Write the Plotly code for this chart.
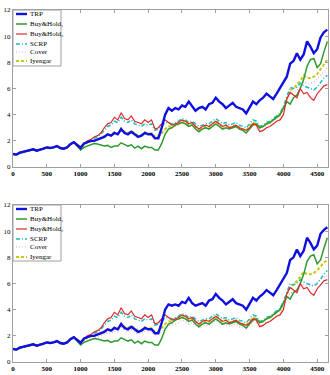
import plotly.graph_objects as go

# ---------------- data ----------------
days = list(range(0, 4651, 50))

# top panel
trp_a = [1.00,0.95,1.10,1.15,1.20,1.30,1.35,1.25,1.30,1.40,1.50,1.45,1.50,1.60,1.45,1.40,1.50,1.75,1.90,1.70,1.45,
         1.8,1.9,2.0,2.0,2.1,2.2,2.3,2.5,2.4,2.6,2.5,2.9,2.6,2.5,2.7,2.5,2.3,2.4,2.6,2.5,2.5,2.2,2.2,3.0,
         4.0,4.5,4.3,4.5,4.4,4.7,4.6,5.0,4.6,4.3,4.5,4.6,4.4,4.8,4.9,5.3,5.0,4.8,4.5,4.7,4.9,4.6,4.5,4.4,4.1,
         4.6,5.0,4.8,5.1,5.3,5.6,5.4,5.2,5.6,6.0,6.4,6.9,7.9,8.1,8.7,8.2,8.6,9.6,9.2,8.7,9.0,9.9,10.3,10.5]
bh1_a = [1.00,0.92,1.05,1.12,1.18,1.28,1.32,1.22,1.28,1.38,1.48,1.43,1.48,1.58,1.42,1.38,1.48,1.72,1.88,1.60,1.30,
         1.5,1.6,1.7,1.8,1.75,1.7,1.6,1.65,1.5,1.6,1.6,1.85,1.7,1.6,1.7,1.45,1.6,1.4,1.6,1.5,1.5,1.3,1.3,1.8,
         2.5,2.9,3.0,3.2,3.3,3.4,3.3,3.1,3.2,2.9,2.7,2.9,3.0,2.9,3.1,3.3,3.1,2.9,3.0,2.9,3.0,3.1,2.9,2.8,2.6,
         2.9,3.2,3.3,3.0,3.1,3.3,3.4,3.6,3.8,4.0,4.5,5.0,4.8,5.3,5.5,6.0,6.7,7.7,8.2,8.3,7.6,7.9,8.8,9.6]
bh2_a = [1.00,0.96,1.12,1.16,1.22,1.32,1.38,1.27,1.32,1.42,1.52,1.47,1.52,1.62,1.47,1.42,1.52,1.78,1.92,1.72,1.55,
         1.75,2.0,2.1,2.3,2.4,2.6,3.0,3.3,3.4,3.8,3.6,4.15,3.7,3.6,3.9,3.5,3.4,3.3,3.6,3.4,3.6,2.9,3.0,3.3,
         3.6,3.4,3.2,3.3,3.4,3.6,3.5,3.3,3.4,3.1,2.9,3.1,3.2,3.1,3.3,3.5,3.3,3.1,3.2,3.0,3.1,3.2,3.0,2.9,2.8,
         3.0,3.3,3.2,2.7,2.8,3.0,3.1,3.3,3.5,3.6,4.0,5.2,5.7,5.5,5.3,6.0,5.6,5.7,5.3,5.1,5.6,5.9,6.2,6.3]
scrp_a = [1.00,0.95,1.11,1.15,1.21,1.31,1.36,1.26,1.31,1.41,1.51,1.46,1.51,1.61,1.46,1.41,1.51,1.76,1.91,1.71,1.52,
          1.7,1.9,2.0,2.2,2.3,2.5,2.8,3.1,3.2,3.5,3.4,3.8,3.5,3.4,3.6,3.3,3.2,3.1,3.3,3.2,3.3,2.8,2.9,3.1,
          3.4,3.4,3.3,3.4,3.5,3.7,3.6,3.4,3.5,3.3,3.1,3.2,3.3,3.3,3.5,3.7,3.5,3.3,3.4,3.2,3.3,3.4,3.2,3.1,3.0,
          3.3,3.6,3.5,3.1,3.2,3.4,3.5,3.7,3.9,4.1,4.6,5.4,6.1,6.0,6.1,6.4,6.2,6.1,6.0,5.9,6.1,6.5,6.8,7.0]
cover_a = [1.00,0.95,1.10,1.14,1.19,1.29,1.34,1.24,1.29,1.39,1.49,1.44,1.49,1.59,1.44,1.39,1.49,1.74,1.89,1.69,1.48,
           1.72,1.82,1.95,2.0,2.05,2.2,2.3,2.45,2.4,2.6,2.5,2.9,2.65,2.55,2.7,2.5,2.35,2.4,2.6,2.5,2.55,2.25,2.3,2.5,
           2.8,3.0,3.0,3.1,3.2,3.4,3.3,3.1,3.2,3.0,2.8,2.9,3.0,3.0,3.2,3.4,3.2,3.0,3.1,2.9,3.0,3.1,2.9,2.8,2.7,
           3.0,3.3,3.2,2.9,3.0,3.2,3.3,3.5,3.7,3.9,4.4,5.0,5.6,5.7,5.9,6.2,6.5,6.4,6.4,6.5,6.7,7.0,7.3,7.6]
iyen_a = [1.00,0.95,1.10,1.15,1.20,1.30,1.35,1.25,1.30,1.40,1.50,1.45,1.50,1.60,1.45,1.40,1.50,1.75,1.90,1.70,1.50,
          1.75,1.85,2.0,2.05,2.1,2.25,2.35,2.5,2.45,2.65,2.55,2.95,2.7,2.6,2.75,2.55,2.4,2.45,2.65,2.55,2.6,2.3,2.35,2.6,
          2.9,3.1,3.1,3.2,3.3,3.5,3.4,3.2,3.3,3.1,2.9,3.0,3.1,3.1,3.3,3.5,3.3,3.1,3.2,3.0,3.1,3.2,3.0,2.9,2.8,
          3.1,3.4,3.3,3.0,3.1,3.3,3.4,3.6,3.8,4.0,4.5,5.2,5.9,6.0,6.3,6.6,7.0,6.8,6.8,6.9,7.1,7.5,7.9,8.2]

# bottom panel
trp_b = [1.00,0.95,1.10,1.15,1.20,1.30,1.35,1.25,1.30,1.40,1.50,1.45,1.50,1.60,1.45,1.40,1.50,1.75,1.90,1.70,1.45,
         1.8,1.9,2.0,2.0,2.1,2.2,2.3,2.5,2.4,2.6,2.5,2.9,2.6,2.5,2.7,2.5,2.3,2.4,2.6,2.5,2.5,2.2,2.2,3.0,
         4.0,4.4,4.3,4.4,4.3,4.6,4.5,4.9,4.5,4.3,4.4,4.5,4.3,4.7,4.8,5.2,4.9,4.7,4.4,4.6,4.8,4.5,4.4,4.3,4.0,
         4.5,4.9,4.7,5.0,5.2,5.5,5.3,5.1,5.5,5.9,6.3,6.8,7.8,8.0,8.6,8.1,8.5,9.5,9.1,8.6,8.9,9.8,10.1,10.3]
bh1_b = [1.00,0.92,1.05,1.12,1.18,1.28,1.32,1.22,1.28,1.38,1.48,1.43,1.48,1.58,1.42,1.38,1.48,1.72,1.88,1.60,1.30,
         1.5,1.6,1.7,1.8,1.75,1.7,1.6,1.65,1.5,1.6,1.6,1.85,1.7,1.6,1.7,1.45,1.6,1.4,1.6,1.5,1.5,1.3,1.3,1.8,
         2.5,2.9,3.0,3.2,3.3,3.4,3.3,3.1,3.2,2.9,2.7,2.9,3.0,2.9,3.1,3.3,3.1,2.9,3.0,2.9,3.0,3.1,2.9,2.8,2.6,
         2.9,3.2,3.3,3.0,3.1,3.3,3.4,3.6,3.8,4.0,4.5,5.0,4.8,5.3,5.5,6.0,6.7,7.7,8.1,8.2,7.5,7.8,8.7,9.5]
bh2_b = [1.00,0.96,1.12,1.16,1.22,1.32,1.38,1.27,1.32,1.42,1.52,1.47,1.52,1.62,1.47,1.42,1.52,1.78,1.92,1.72,1.55,
         1.75,2.0,2.1,2.3,2.4,2.6,3.0,3.3,3.4,3.8,3.6,4.15,3.7,3.6,3.9,3.5,3.4,3.3,3.6,3.4,3.6,2.9,3.0,3.3,
         3.6,3.4,3.2,3.3,3.4,3.6,3.5,3.3,3.4,3.1,2.9,3.1,3.2,3.1,3.3,3.5,3.3,3.1,3.2,3.0,3.1,3.2,3.0,2.9,2.8,
         3.0,3.3,3.2,2.7,2.8,3.0,3.1,3.3,3.5,3.6,4.0,5.2,5.7,5.5,5.3,6.0,5.6,5.7,5.3,5.1,5.6,5.9,6.2,6.3]
scrp_b = [1.00,0.95,1.11,1.15,1.21,1.31,1.36,1.26,1.31,1.41,1.51,1.46,1.51,1.61,1.46,1.41,1.51,1.76,1.91,1.71,1.52,
          1.7,1.9,2.0,2.2,2.3,2.5,2.8,3.1,3.2,3.5,3.4,3.8,3.5,3.4,3.6,3.3,3.2,3.1,3.3,3.2,3.3,2.8,2.9,3.1,
          3.4,3.4,3.3,3.4,3.5,3.7,3.6,3.4,3.5,3.3,3.1,3.2,3.3,3.3,3.5,3.7,3.5,3.3,3.4,3.2,3.3,3.4,3.2,3.1,3.0,
          3.3,3.6,3.5,3.1,3.2,3.4,3.5,3.7,3.9,4.1,4.6,5.3,6.0,5.9,6.0,6.3,6.1,6.0,5.9,5.8,6.0,6.4,6.7,7.0]
cover_b = [1.00,0.94,1.08,1.12,1.16,1.25,1.30,1.21,1.26,1.35,1.45,1.40,1.45,1.55,1.40,1.35,1.45,1.68,1.82,1.62,1.40,
           1.62,1.7,1.82,1.85,1.9,2.0,2.1,2.25,2.2,2.35,2.3,2.65,2.4,2.3,2.45,2.3,2.15,2.2,2.35,2.3,2.3,2.05,2.1,2.3,
           2.6,2.8,2.8,2.9,3.0,3.2,3.1,2.9,3.0,2.8,2.6,2.7,2.8,2.8,3.0,3.2,3.0,2.8,2.9,2.7,2.8,2.9,2.7,2.6,2.5,
           2.8,3.1,3.0,2.7,2.8,3.0,3.1,3.3,3.5,3.7,4.2,4.8,5.3,5.3,5.5,5.8,5.9,5.8,5.8,5.9,6.1,6.3,6.5,6.6]
iyen_b = [1.00,0.95,1.10,1.15,1.20,1.30,1.35,1.25,1.30,1.40,1.50,1.45,1.50,1.60,1.45,1.40,1.50,1.75,1.90,1.70,1.50,
          1.75,1.85,2.0,2.05,2.1,2.25,2.35,2.5,2.45,2.65,2.55,2.95,2.7,2.6,2.75,2.55,2.4,2.45,2.65,2.55,2.6,2.3,2.35,2.6,
          2.9,3.1,3.1,3.2,3.3,3.5,3.4,3.2,3.3,3.1,2.9,3.0,3.1,3.1,3.3,3.5,3.3,3.1,3.2,3.0,3.1,3.2,3.0,2.9,2.8,
          3.1,3.4,3.3,3.0,3.1,3.3,3.4,3.6,3.8,4.0,4.5,5.1,5.8,5.9,6.2,6.5,6.9,6.7,6.7,6.8,7.0,7.3,7.6,7.8]

names = ["TRP", "Buy&amp;Hold\u2081", "Buy&amp;Hold\u2082", "SCRP", "Cover", "Iyengar"]
x_ticks = [0, 500, 1000, 1500, 2000, 2500, 3000, 3500, 4000, 4500]
y_ticks = [0, 2, 4, 6, 8, 10, 12]

# ---------------- styles ----------------
styles = [
    dict(color="#1010e0", width=2.4, dash="solid"),
    dict(color="#2f9a2f", width=1.5, dash="solid"),
    dict(color="#e02828", width=1.2, dash="solid"),
    dict(color="#18bcc8", width=1.5, dash="4px,2px,1px,2px"),
    dict(color="#e8a8d8", width=1.2, dash="1px,2px"),
    dict(color="#c8c810", width=2.0, dash="3px,2px"),
]
# draw order (back to front)
order = [4, 5, 3, 1, 2, 0]

fig = go.Figure()
panels = [
    ([trp_a, bh1_a, bh2_a, scrp_a, cover_a, iyen_a], "x", "y"),
    ([trp_b, bh1_b, bh2_b, scrp_b, cover_b, iyen_b], "x2", "y2"),
]
for series, xa, ya in panels:
    for i in order:
        ys = series[i]
        fig.add_trace(go.Scatter(x=days[:len(ys)], y=ys, mode="lines", line=styles[i],
                                 name=names[i], showlegend=False, xaxis=xa, yaxis=ya,
                                 hoverinfo="skip"))

axis_common = dict(showgrid=False, zeroline=False, showline=True, mirror="ticks",
                   linecolor="#a0a0a0", linewidth=1, ticks="inside", ticklen=3, tickcolor="#a0a0a0")
xfont = dict(family="Liberation Serif", size=7, color="#000", weight="bold")
yfont = dict(family="Liberation Serif", size=7, color="#000")

H = 352.0  # plot pixel height (10..362)
top_dom = [(362 - 167) / H, 1.0]
bot_dom = [0.0, (362 - 205) / H]

fig.update_layout(
    width=330, height=375, margin=dict(l=13, r=2, t=10, b=13),
    paper_bgcolor="white", plot_bgcolor="white", showlegend=False,
    xaxis=dict(axis_common, range=[0, 4660], tickvals=x_ticks, tickfont=xfont, anchor="y", domain=[0, 1]),
    yaxis=dict(axis_common, range=[0, 12], tickvals=y_ticks, tickfont=yfont, anchor="x", domain=top_dom),
    xaxis2=dict(axis_common, range=[0, 4660], tickvals=x_ticks, tickfont=xfont, anchor="y2", domain=[0, 1]),
    yaxis2=dict(axis_common, range=[0, 12], tickvals=y_ticks, tickfont=yfont, anchor="x2", domain=bot_dom),
)

# ---------------- custom legends ----------------
W = 315.0
def legend(xref, yref, rows_px, top_px):
    shapes, anns = [], []
    def fy(py):
        return 1 - (py - top_px) / 157.0
    shapes.append(dict(type="rect", xref=xref, yref=yref, x0=0, x1=(61 - 13) / W,
                       y0=fy(top_px + 56), y1=1, line=dict(color="#a0a0a0", width=1),
                       fillcolor="white", layer="above"))
    for i, py in enumerate(rows_px):
        st = styles[i]
        shapes.append(dict(type="line", xref=xref, yref=yref, x0=(16 - 13) / W, x1=(27 - 13) / W,
                           y0=fy(py), y1=fy(py), layer="above",
                           line=dict(color=st["color"], width=st["width"], dash=st["dash"])))
        anns.append(dict(xref=xref, yref=yref, x=(28 - 13) / W, y=fy(py), text=names[i],
                         showarrow=False, xanchor="left", yanchor="middle",
                         font=dict(family="Liberation Serif", size=7, color="#000")))
    return shapes, anns

s1, a1 = legend("x domain", "y domain", [14, 24, 34, 44, 52, 61], 10)
s2, a2 = legend("x2 domain", "y2 domain", [209, 219, 229, 239, 247, 257], 205)
fig.update_layout(shapes=s1 + s2, annotations=a1 + a2)

fig.write_html("out.html")
